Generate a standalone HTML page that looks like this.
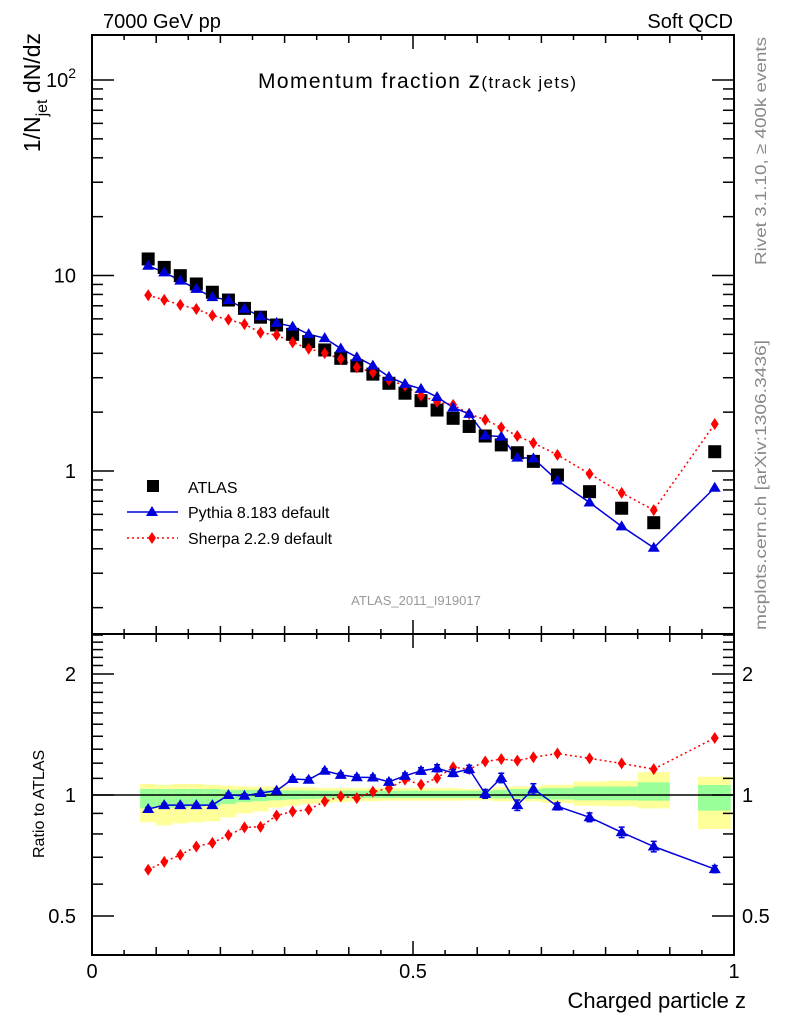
<!DOCTYPE html>
<html><head><meta charset="utf-8"><style>
body{margin:0;background:#fff}
svg{display:block;font-family:"Liberation Sans",sans-serif}
</style></head><body>
<svg id="c" width="786" height="1024" viewBox="0 0 786 1024" xmlns="http://www.w3.org/2000/svg">
<g id="bands"></g>
<g id="grid"></g>
<g id="marks"></g>
<text x="103" y="28" font-size="20">7000 GeV pp</text>
<text x="733" y="28" font-size="20" text-anchor="end">Soft QCD</text>
<text x="258" y="88" font-size="21" textLength="318">Momentum fraction <tspan font-size="23">z</tspan><tspan font-size="17">(track jets)</tspan></text>
<text x="416" y="605" font-size="13" fill="#999" text-anchor="middle">ATLAS_2011_I919017</text>
<text transform="translate(766,265) rotate(-90)" font-size="16" fill="#888" textLength="228" lengthAdjust="spacingAndGlyphs">Rivet 3.1.10, ≥ 400k events</text>
<text transform="translate(766,630) rotate(-90)" font-size="16" fill="#888" textLength="290" lengthAdjust="spacingAndGlyphs">mcplots.cern.ch [arXiv:1306.3436]</text>
<text transform="translate(40,33) rotate(-90)" font-size="23" text-anchor="end">1/N<tspan font-size="16" dy="7">jet</tspan><tspan dy="-7"> dN/dz</tspan></text>
<text transform="translate(44,858) rotate(-90)" font-size="16">Ratio to ATLAS</text>
<text x="746" y="1008" font-size="22" text-anchor="end">Charged particle z</text>
<g>
<rect x="147" y="480" width="12" height="12" fill="#000"/>
<text x="188" y="493" font-size="16">ATLAS</text>
<line x1="127" y1="512" x2="178" y2="512" stroke="#0000dd" stroke-width="1.5"/>
<polygon points="152,506 158,516 146,516" fill="#0000dd"/>
<text x="188" y="518" font-size="16">Pythia 8.183 default</text>
<line x1="127" y1="538" x2="178" y2="538" stroke="#f00" stroke-width="1.5" stroke-dasharray="2,3"/>
<polygon points="152,532 156,538 152,544 148,538" fill="#f00"/>
<text x="188" y="544" font-size="16">Sherpa 2.2.9 default</text>
</g>
</svg>
<script>
const zVals=[0.0875,0.1125,0.1375,0.1625,0.1875,0.2125,0.2375,0.2625,0.2875,0.3125,0.3375,0.3625,0.3875,0.4125,0.4375,0.4625,0.4875,0.5125,0.5375,0.5625,0.5875,0.6125,0.6375,0.6625,0.6875,0.725,0.775,0.825,0.875,0.97];
const binLo=[0.075,0.1,0.125,0.15,0.175,0.2,0.225,0.25,0.275,0.3,0.325,0.35,0.375,0.4,0.425,0.45,0.475,0.5,0.525,0.55,0.575,0.6,0.625,0.65,0.675,0.7,0.75,0.8,0.85,0.944];
const binHi=[0.1,0.125,0.15,0.175,0.2,0.225,0.25,0.275,0.3,0.325,0.35,0.375,0.4,0.425,0.45,0.475,0.5,0.525,0.55,0.575,0.6,0.625,0.65,0.675,0.7,0.75,0.8,0.85,0.9,0.995];
const atlas=[12.15,11.0,9.98,9.05,8.21,7.49,6.79,6.12,5.58,5.0,4.59,4.16,3.77,3.45,3.13,2.81,2.5,2.29,2.05,1.86,1.69,1.51,1.36,1.24,1.12,0.954,0.784,0.645,0.544,1.255];
const pythia=[11.21,10.38,9.42,8.54,7.75,7.49,6.76,6.19,5.72,5.48,5.01,4.78,4.23,3.82,3.46,3.03,2.79,2.63,2.39,2.11,1.96,1.52,1.50,1.17,1.16,0.894,0.690,0.521,0.405,0.821];
const pythiaErr=[0.01,0.01,0.01,0.01,0.01,0.01,0.01,0.01,0.01,0.012,0.012,0.012,0.012,0.013,0.014,0.015,0.016,0.018,0.02,0.02,0.022,0.025,0.027,0.03,0.03,0.02,0.025,0.03,0.03,0.02];
const sherpa=[7.92,7.50,7.08,6.74,6.24,5.95,5.64,5.10,4.96,4.55,4.22,4.01,3.74,3.39,3.19,2.92,2.73,2.43,2.26,2.18,1.96,1.83,1.67,1.51,1.39,1.21,0.967,0.773,0.631,1.74];
const yelLo=[0.855,0.84,0.85,0.855,0.86,0.88,0.9,0.91,0.93,0.94,0.95,0.955,0.96,0.965,0.965,0.968,0.968,0.968,0.968,0.968,0.97,0.97,0.965,0.965,0.965,0.955,0.94,0.937,0.926,0.823];
const yelHi=[1.065,1.06,1.065,1.065,1.06,1.055,1.05,1.05,1.05,1.045,1.045,1.04,1.04,1.04,1.04,1.04,1.04,1.04,1.04,1.04,1.035,1.035,1.045,1.05,1.05,1.06,1.08,1.085,1.14,1.11];
const grnLo=[0.926,0.93,0.93,0.935,0.94,0.95,0.96,0.965,0.97,0.975,0.978,0.98,0.982,0.983,0.983,0.983,0.983,0.983,0.983,0.983,0.983,0.983,0.98,0.98,0.978,0.975,0.97,0.97,0.968,0.914];
const grnHi=[1.035,1.035,1.035,1.035,1.035,1.03,1.03,1.03,1.028,1.027,1.026,1.025,1.025,1.025,1.025,1.025,1.025,1.025,1.025,1.025,1.025,1.025,1.03,1.035,1.035,1.04,1.05,1.05,1.075,1.059];
const mainTicks=["1","10","10²"];
const ratioTicks=["0.5","1","2"];
const xTicks=["0","0.5","1"];

const NS="http://www.w3.org/2000/svg";
const X0=92,X1=734,MT=35,MB=634,RB=955;
const xs=z=>X0+z*(X1-X0);
const ym=v=>471-Math.log10(v)*195.5;
const yr=r=>795-Math.log2(r)*121;
function mk(parent,tag,attrs){const e=document.createElementNS(NS,tag);for(const k in attrs)e.setAttribute(k,attrs[k]);parent.appendChild(e);return e;}
const G=document.getElementById('grid'),B=document.getElementById('bands'),M=document.getElementById('marks');

for(let i=0;i<binLo.length;i++){
  const y=mk(B,'rect',{x:xs(binLo[i]),y:yr(yelHi[i]),width:xs(binHi[i])-xs(binLo[i]),height:yr(yelLo[i])-yr(yelHi[i]),fill:'#ffff99'});
  
  
  const g=mk(B,'rect',{x:xs(binLo[i]),y:yr(grnHi[i]),width:xs(binHi[i])-xs(binLo[i]),height:yr(grnLo[i])-yr(grnHi[i]),fill:'#99ff99'});
  
  
}
const f1=mk(G,'rect',{x:X0,y:MT,width:X1-X0,height:MB-MT,fill:'none',stroke:'#000','stroke-width':2});


const f2=mk(G,'rect',{x:X0,y:MB,width:X1-X0,height:RB-MB,fill:'none',stroke:'#000','stroke-width':2});


const ref=mk(G,'line',{x1:X0,x2:X1,y1:yr(1),y2:yr(1),stroke:'#000','stroke-width':1.5});


for(let k=0;k<=20;k++){
  const z=k*0.05,x=xs(z),L=(k%10==0)?14:(k%2==0?8:5);
  for(const yy of [MT,MB,RB]){
    if(yy!==MT) mk(G,'line',{x1:x,x2:x,y1:yy,y2:yy-L,stroke:'#000','stroke-width':1.5});
    if(yy!==RB) mk(G,'line',{x1:x,x2:x,y1:yy,y2:yy+L,stroke:'#000','stroke-width':1.5});
  }
}
xTicks.forEach((t,i)=>{const e=mk(G,'text',{x:xs(i*0.5),y:978,'font-size':20,'text-anchor':'middle'});e.textContent=t;
  
  });
for(let d=-1;d<=2;d++){for(let m=1;m<=9;m++){const v=m*Math.pow(10,d);const y=ym(v);if(y<MT||y>MB)continue;const L=m==1?22:11;
  mk(G,'line',{x1:X0,x2:X0+L,y1:y,y2:y,stroke:'#000','stroke-width':1.5});mk(G,'line',{x1:X1,x2:X1-L,y1:y,y2:y,stroke:'#000','stroke-width':1.5});}}
mainTicks.forEach((t,i)=>{const e=mk(G,'text',{x:76,y:ym(Math.pow(10,i))+7,'font-size':20,'text-anchor':'end'});
  if(i==2){e.textContent='10';const s=mk(e,'tspan',{dy:-9,'font-size':14});s.textContent='2';}else e.textContent=t;
  
  });
for(let v=0.4;v<=2.55;v+=0.1){const r=Math.round(v*10)/10;const y=yr(r);if(y<MB||y>RB)continue;const L=(r==0.5||r==1||r==2)?22:11;
  mk(G,'line',{x1:X0,x2:X0+L,y1:y,y2:y,stroke:'#000','stroke-width':1.5});mk(G,'line',{x1:X1,x2:X1-L,y1:y,y2:y,stroke:'#000','stroke-width':1.5});}
ratioTicks.forEach((t,i)=>{const r=[0.5,1,2][i];
  const e=mk(G,'text',{x:76,y:yr(r)+7,'font-size':20,'text-anchor':'end'});e.textContent=t;
  
  
  const e2=mk(G,'text',{x:742,y:yr(r)+7,'font-size':20});e2.textContent=t;
  
  });

function line(vals,fy,color,dash,name){const p=vals.map((v,i)=>xs(zVals[i])+','+fy(v,i)).join(' ');
  const e=mk(M,'polyline',{points:p,fill:'none',stroke:color,'stroke-width':1.5});if(dash)e.setAttribute('stroke-dasharray',dash);
  
  }
function tri(x,y){return `${x},${y-6} ${x+6},${y+4} ${x-6},${y+4}`;}
function dia(x,y){return `${x},${y-6} ${x+4},${y} ${x},${y+6} ${x-4},${y}`;}
line(sherpa,v=>ym(v),'#f00','2,3','sherpa-line');
line(pythia,v=>ym(v),'#0000dd',null,'pythia-line');
line(sherpa.map((v,i)=>v/atlas[i]),v=>yr(v),'#f00','2,3','sherpa-ratio-line');
line(pythia.map((v,i)=>v/atlas[i]),v=>yr(v),'#0000dd',null,'pythia-ratio-line');
zVals.forEach((z,i)=>{const x=xs(z);
  const a=mk(M,'rect',{x:x-6.5,y:ym(atlas[i])-6.5,width:13,height:13,fill:'#000'});
  
  
  const s=mk(M,'polygon',{points:dia(x,ym(sherpa[i])),fill:'#f00'});
  
  
  const p=mk(M,'polygon',{points:tri(x,ym(pythia[i])),fill:'#0000dd'});
  
  
  const rs=sherpa[i]/atlas[i],rp=pythia[i]/atlas[i];
  const s2=mk(M,'polygon',{points:dia(x,yr(rs)),fill:'#f00'});
  
  
  const e=pythiaErr[i],y1=yr(rp*(1+e)),y2=yr(rp*(1-e));
  mk(M,'line',{x1:x,x2:x,y1:y1,y2:y2,stroke:'#0000dd','stroke-width':1.5});
  mk(M,'line',{x1:x-3,x2:x+3,y1:y1,y2:y1,stroke:'#0000dd','stroke-width':1.5});
  mk(M,'line',{x1:x-3,x2:x+3,y1:y2,y2:y2,stroke:'#0000dd','stroke-width':1.5});
  const p2=mk(M,'polygon',{points:tri(x,yr(rp)),fill:'#0000dd'});
  
  
});
</script>
</body></html>
